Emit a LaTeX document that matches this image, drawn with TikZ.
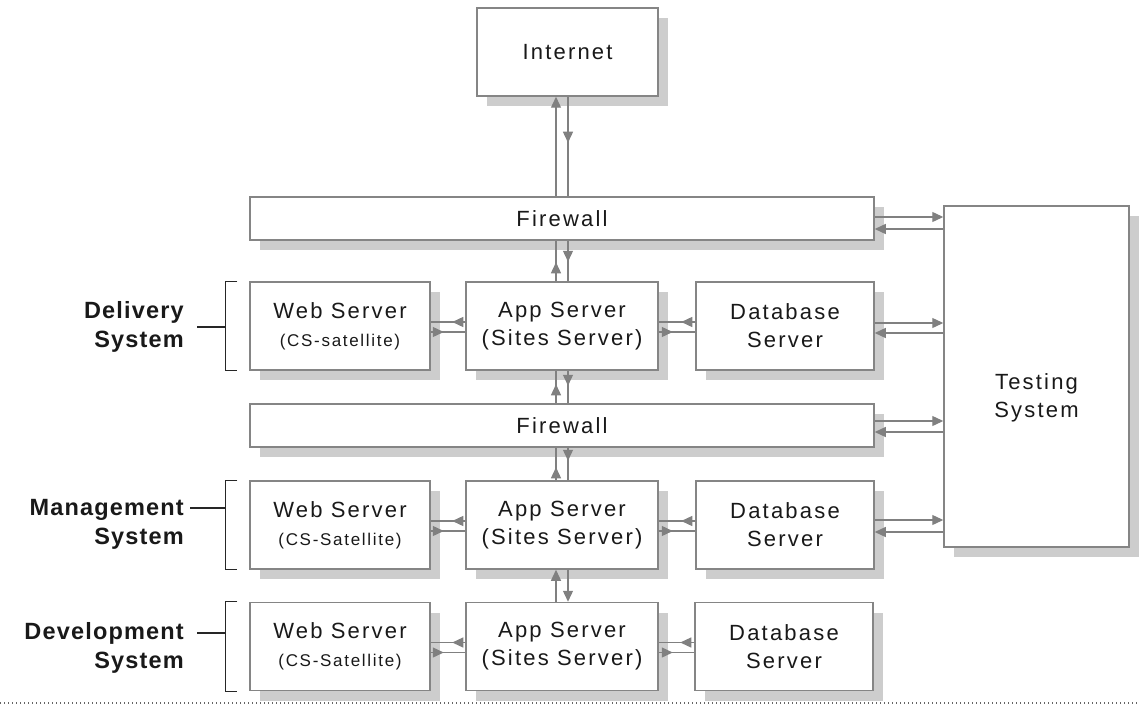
\documentclass[tikz,border=0pt]{standalone}
\usepackage{fontspec}
\setmainfont{Liberation Sans}
\newfontfamily\boxfont[LetterSpace=10]{Liberation Sans}
\newfontfamily\lblfont[LetterSpace=5]{Liberation Sans}
\usetikzlibrary{arrows.meta,shadows,decorations.markings}
\definecolor{bordergray}{HTML}{858585}
\definecolor{linegray}{HTML}{808080}
\definecolor{shadowgray}{HTML}{CDCDCD}
\newcommand\smalltxt{\fontsize{17}{25}\selectfont}
\begin{document}
\begin{tikzpicture}[x=1pt,y=-1pt,
  box/.style={draw=bordergray, line width=1.5pt, fill=white, align=center, inner sep=0pt,
    drop shadow={shadow xshift=10pt, shadow yshift=-10pt, fill=shadowgray, opacity=1}},
  big/.style={font=\boxfont\fontsize{22}{28}\selectfont, text=black!90},
  lbl/.style={font=\lblfont\bfseries\fontsize{23.5}{29}\selectfont, align=right, inner sep=0pt, anchor=east, text=black!90},
  conn/.style={draw=linegray, line width=1.3pt},
  tip/.style={-{Triangle[length=11pt,width=10pt]}},
  headat/.style={postaction={decorate}, decoration={markings, mark=at position #1 with {\arrow{Triangle[length=11pt,width=10pt]}}}},
  brk/.style={draw=black!85, line width=1.3pt},
  webbox/.style={box, big, minimum width=180, minimum height=88},
  appbox/.style={box, big, minimum width=192, minimum height=88},
  dbbox/.style={box, big, minimum width=178, minimum height=88},
  fwbox/.style={box, big, minimum width=624, minimum height=43}
]
\useasboundingbox (0,0) rectangle (1140,706);

% nodes
\node[box, big, minimum width=181, minimum height=88] (inet) at (567.5,52) {Internet};
\node[fwbox] (fw1) at (562,218.5) {Firewall};
\node[fwbox] (fw2) at (562,425.5) {Firewall};
\node[box, minimum width=185, minimum height=341] (test) at (1036.5,376.5) {};
\node[big, align=center, inner sep=0pt] (testtxt) at (1036.5,398) {Testing\\System};

\node[webbox] (web1) at (340,326) {Web Server\\\smalltxt (CS-satellite)};
\node[appbox] (app1) at (562,326) {App Server\\(Sites Server)};
\node[dbbox]  (db1)  at (785,326) {Database\\Server};

\node[webbox] (web2) at (340,525) {Web Server\\\smalltxt (CS-Satellite)};
\node[appbox] (app2) at (562,525) {App Server\\(Sites Server)};
\node[dbbox]  (db2)  at (785,525) {Database\\Server};

\node[webbox] (web3) at (340,646.5) {Web Server\\\smalltxt (CS-Satellite)};
\node[appbox] (app3) at (562,646.5) {App Server\\(Sites Server)};
\node[dbbox]  (db3)  at (784,646.5) {Database\\Server};

% labels
\node[lbl] (lab1) at (184,326.5) {Delivery\\System};
\node[lbl] (lab2) at (184,524) {Management\\System};
\node[lbl] (lab3) at (184,647.5) {Development\\System};

% brackets and leaders
\foreach \w/\ly/\lx in {web1/327/197, web2/508/190, web3/633/197}{
  \draw[brk] ([xshift=-12pt]\w.north west) -- ([xshift=-24pt]\w.north west)
     -- ([xshift=-24pt]\w.south west) -- ([xshift=-12pt]\w.south west);
  \coordinate (ld) at (\lx,\ly);
  \coordinate (lb) at ([xshift=-24pt]\w.west);
  \draw[brk] (ld) -- (ld -| lb);
}

% vertical connectors
\coordinate (cl) at (556,0);
\coordinate (cr) at (568,0);
\draw[conn,tip] (fw1.north -| cl) -- (inet.south -| cl);
\draw[conn,headat=46pt] (inet.south -| cr) -- (fw1.north -| cr);
\draw[conn,headat=21pt] (fw1.south -| cr) -- (app1.north -| cr);
\draw[conn,headat=19pt] (app1.north -| cl) -- (fw1.south -| cl);
\draw[conn,headat=15pt] (app1.south -| cr) -- (fw2.north -| cr);
\draw[conn,headat=19pt] (fw2.north -| cl) -- (app1.south -| cl);
\draw[conn,headat=13pt] (fw2.south -| cr) -- (app2.north -| cr);
\draw[conn,headat=13pt] (app2.north -| cl) -- (fw2.south -| cl);
\draw[conn,tip] (app3.north -| cl) -- (app2.south -| cl);
\draw[conn,tip] (app2.south -| cr) -- (app3.north -| cr);

% horizontal connectors inside rows
\foreach \r in {1,2,3}{
  \draw[conn,headat=13pt] ([yshift=4pt]app\r.west) -- ([yshift=4pt]web\r.east);
  \draw[conn,headat=13pt] ([yshift=-6pt]web\r.east) -- ([yshift=-6pt]app\r.west);
  \draw[conn,headat=14pt] ([yshift=4pt]db\r.west) -- ([yshift=4pt]app\r.east);
  \draw[conn,headat=14pt] ([yshift=-6pt]app\r.east) -- ([yshift=-6pt]db\r.west);
}

% connectors to testing system
\foreach \src/\ya/\yb in {fw1/217/229, db1/323/333, fw2/421/432, db2/520/532}{
  \coordinate (ta) at (0,\ya);
  \coordinate (tb) at (0,\yb);
  \draw[conn,tip] (\src.east |- ta) -- (test.west |- ta);
  \draw[conn,tip] (test.west |- tb) -- (\src.east |- tb);
}

% bottom dotted rule
\coordinate (dl) at (0,703);
\coordinate (dr) at (1140,703);
\draw[draw=black!60, line width=1.2pt, dash pattern=on 1.2pt off 2.8pt] (dl) -- (dr);
\end{tikzpicture}
\end{document}
